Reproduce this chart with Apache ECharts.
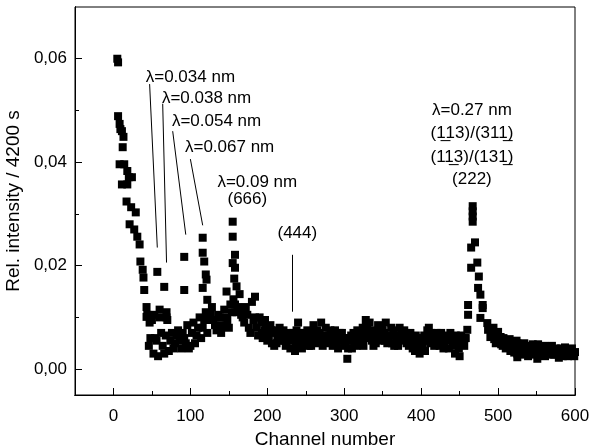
<!DOCTYPE html>
<html>
<head>
<meta charset="utf-8">
<script src="https://cdn.jsdelivr.net/npm/echarts@6/dist/echarts.min.js"></script>
<style>
  html, body { margin: 0; padding: 0; background: #fff; }
  #chart { width: 592px; height: 448px; }
</style>
</head>
<body>
<div id="chart"></div>
<script>
// tick values
const xMajorTicks = [0, 100, 200, 300, 400, 500, 600];
const xMinorTicks = [-50, 50, 150, 250, 350, 450, 550];
const yMajorTicks = [0, 0.02, 0.04, 0.06];
const yMinorTicks = [0.01, 0.03, 0.05];

// [channel, rel. intensity]
const directBeam = [
  [5, 0.0600], [6, 0.0593], [6, 0.0489], [8, 0.0474], [9, 0.0464], [11, 0.0460],
  [13, 0.0449], [12, 0.0429], [8, 0.0396], [14, 0.0396], [18, 0.0383], [20, 0.0371],
  [24, 0.0371], [11, 0.0357], [18, 0.0357], [17, 0.0324], [23, 0.0313], [29, 0.0303],
  [21, 0.0280], [27, 0.0270], [31, 0.0256], [34, 0.0241], [35, 0.0208], [38, 0.0192],
  [39, 0.0177], [40, 0.0153], [43, 0.0120], [43, 0.0101], [53, 0.0105], [69, 0.0110],
  [69, 0.0100], [47, 0.0090], [60, 0.0115]
];
const peak034 = [[57, 0.0188]];
const peak038 = [[66, 0.0159]];
const peak054 = [[92, 0.0217], [92, 0.0153]];
const peak067 = [
  [116, 0.0254], [116, 0.0225], [118, 0.0208], [120, 0.0183], [121, 0.0173],
  [116, 0.0157], [122, 0.0134]
];
const peak090 = [
  [155, 0.0285], [155, 0.0256], [158, 0.0221], [155, 0.0205], [158, 0.0196],
  [157, 0.0175], [160, 0.0160], [147, 0.0150], [184, 0.0140]
];
const backgroundA = [
  [44, 0.0105], [48, 0.0060], [52, 0.0030], [56, 0.0055], [60, 0.0100], [64, 0.0045],
  [68, 0.0065], [72, 0.0035], [76, 0.0070], [80, 0.0050], [84, 0.0075], [88, 0.0040],
  [92, 0.0060], [96, 0.0085], [100, 0.0045], [104, 0.0090], [108, 0.0065], [112, 0.0100],
  [116, 0.0080], [120, 0.0110], [124, 0.0095], [128, 0.0120], [132, 0.0085], [136, 0.0105],
  [140, 0.0070], [144, 0.0115], [148, 0.0095], [152, 0.0125], [156, 0.0135], [160, 0.0110],
  [164, 0.0145], [168, 0.0100], [172, 0.0120], [176, 0.0080], [180, 0.0130], [184, 0.0100],
  [188, 0.0065], [192, 0.0090], [196, 0.0075], [200, 0.0055], [204, 0.0085], [208, 0.0070],
  [212, 0.0050], [216, 0.0080], [220, 0.0060], [224, 0.0045], [228, 0.0070], [232, 0.0055],
  [236, 0.0035], [240, 0.0090], [244, 0.0060], [248, 0.0050], [252, 0.0075], [256, 0.0060],
  [260, 0.0085], [264, 0.0050], [268, 0.0070], [272, 0.0045], [276, 0.0080], [280, 0.0065],
  [284, 0.0055], [288, 0.0075], [292, 0.0040], [296, 0.0060], [300, 0.0050], [304, 0.0020],
  [308, 0.0055], [312, 0.0070], [316, 0.0045], [320, 0.0065], [324, 0.0080], [328, 0.0095],
  [332, 0.0070], [336, 0.0055], [340, 0.0075], [344, 0.0085], [348, 0.0060], [352, 0.0070],
  [356, 0.0050], [360, 0.0065], [364, 0.0075], [368, 0.0055], [372, 0.0080], [376, 0.0060],
  [380, 0.0070], [384, 0.0045], [388, 0.0060], [392, 0.0035], [396, 0.0055], [400, 0.0040],
  [404, 0.0065], [408, 0.0075], [412, 0.0050], [416, 0.0060], [420, 0.0070], [424, 0.0045],
  [428, 0.0055], [432, 0.0065], [436, 0.0040], [440, 0.0060], [444, 0.0030], [448, 0.0050],
  [452, 0.0065], [456, 0.0045]
];
const backgroundB = [
  [46, 0.0045], [50, 0.0095], [54, 0.0060], [58, 0.0025], [62, 0.0070], [66, 0.0030],
  [70, 0.0095], [74, 0.0055], [78, 0.0040], [82, 0.0065], [86, 0.0055], [90, 0.0070],
  [94, 0.0050], [98, 0.0040], [102, 0.0070], [106, 0.0050], [110, 0.0080], [114, 0.0060],
  [118, 0.0095], [122, 0.0070], [126, 0.0105], [130, 0.0095], [134, 0.0075], [138, 0.0100],
  [142, 0.0085], [146, 0.0100], [150, 0.0080], [154, 0.0110], [158, 0.0125], [162, 0.0120],
  [166, 0.0105], [170, 0.0090], [174, 0.0105], [178, 0.0070], [182, 0.0095], [186, 0.0080],
  [190, 0.0100], [194, 0.0060], [198, 0.0080], [202, 0.0065], [206, 0.0050], [210, 0.0075],
  [214, 0.0060], [218, 0.0070], [222, 0.0055], [226, 0.0065], [230, 0.0040], [234, 0.0060],
  [238, 0.0075], [242, 0.0050], [246, 0.0070], [250, 0.0060], [254, 0.0045], [258, 0.0065],
  [262, 0.0070], [266, 0.0060], [270, 0.0090], [274, 0.0060], [278, 0.0055], [282, 0.0075],
  [286, 0.0065], [290, 0.0050], [294, 0.0070], [298, 0.0055], [302, 0.0045], [306, 0.0060],
  [310, 0.0040], [314, 0.0060], [318, 0.0055], [322, 0.0070], [326, 0.0060], [330, 0.0080],
  [334, 0.0065], [338, 0.0045], [342, 0.0065], [346, 0.0055], [350, 0.0075], [354, 0.0090],
  [358, 0.0060], [362, 0.0050], [366, 0.0065], [370, 0.0045], [374, 0.0070], [378, 0.0075],
  [382, 0.0055], [386, 0.0070], [390, 0.0050], [394, 0.0060], [398, 0.0030], [402, 0.0050],
  [406, 0.0055], [410, 0.0080], [414, 0.0065], [418, 0.0055], [422, 0.0060], [426, 0.0070],
  [430, 0.0050], [434, 0.0060], [438, 0.0070], [442, 0.0050], [446, 0.0060], [450, 0.0025],
  [454, 0.0055], [458, 0.0060]
];
const backgroundC = [
  [193, 0.0070], [197, 0.0095], [201, 0.0060], [205, 0.0075], [209, 0.0045], [213, 0.0065],
  [217, 0.0055], [221, 0.0075], [225, 0.0050], [229, 0.0060], [233, 0.0070], [237, 0.0050],
  [241, 0.0065], [245, 0.0040], [249, 0.0070], [253, 0.0055], [257, 0.0045], [261, 0.0060],
  [265, 0.0075], [269, 0.0055], [273, 0.0065], [277, 0.0050], [281, 0.0060], [285, 0.0045],
  [289, 0.0065], [293, 0.0055], [297, 0.0070], [301, 0.0060], [305, 0.0040], [309, 0.0065],
  [313, 0.0050], [317, 0.0075], [321, 0.0055], [325, 0.0045], [329, 0.0065], [333, 0.0090],
  [337, 0.0060], [341, 0.0050], [345, 0.0070], [349, 0.0080], [353, 0.0055], [357, 0.0065],
  [361, 0.0080], [365, 0.0045], [369, 0.0060], [373, 0.0055], [377, 0.0065], [381, 0.0050],
  [385, 0.0065], [389, 0.0040], [393, 0.0065], [397, 0.0045], [401, 0.0060], [405, 0.0035],
  [409, 0.0055], [413, 0.0070], [417, 0.0045], [421, 0.0065], [425, 0.0055], [429, 0.0040],
  [433, 0.0055], [437, 0.0060], [441, 0.0045], [445, 0.0065], [449, 0.0040], [453, 0.0060]
];
const peak027 = [
  [467, 0.0315], [467, 0.0305], [467, 0.0295], [467, 0.0285], [470, 0.0245], [465, 0.0235],
  [473, 0.0206], [465, 0.0196], [475, 0.0179], [474, 0.0157], [477, 0.0144], [461, 0.0124],
  [461, 0.0105], [480, 0.0124], [480, 0.0118], [477, 0.0099], [486, 0.0089], [460, 0.0076],
  [487, 0.0076], [490, 0.0062], [457, 0.0060], [499, 0.0070], [503, 0.0062], [512, 0.0043],
  [525, 0.0050], [525, 0.0023]
];
const tailA = [
  [492, 0.0070], [495, 0.0058], [498, 0.0065], [501, 0.0055], [504, 0.0048], [507, 0.0060],
  [510, 0.0040], [513, 0.0052], [516, 0.0035], [519, 0.0045], [522, 0.0050], [525, 0.0030],
  [528, 0.0042], [531, 0.0038], [534, 0.0050], [537, 0.0032], [540, 0.0045], [543, 0.0028],
  [546, 0.0040], [549, 0.0035], [552, 0.0048], [555, 0.0030], [558, 0.0042], [561, 0.0025],
  [564, 0.0038], [567, 0.0032], [570, 0.0045], [573, 0.0028], [576, 0.0036], [579, 0.0022],
  [582, 0.0040], [585, 0.0030], [588, 0.0035], [591, 0.0025], [594, 0.0038], [597, 0.0030],
  [600, 0.0033]
];
const tailB = [
  [494, 0.0080], [497, 0.0050], [500, 0.0072], [503, 0.0062], [506, 0.0045], [509, 0.0055],
  [512, 0.0043], [515, 0.0058], [518, 0.0040], [521, 0.0032], [524, 0.0055], [527, 0.0040],
  [530, 0.0028], [533, 0.0045], [536, 0.0040], [539, 0.0025], [542, 0.0038], [545, 0.0048],
  [548, 0.0030], [551, 0.0020], [554, 0.0040], [557, 0.0035], [560, 0.0045], [563, 0.0030],
  [566, 0.0042], [569, 0.0028], [572, 0.0035], [575, 0.0040], [578, 0.0030], [581, 0.0035],
  [584, 0.0025], [587, 0.0042], [590, 0.0032], [593, 0.0028], [596, 0.0040], [599, 0.0025]
];

const allPoints = [].concat(directBeam, peak034, peak038, peak054, peak067, peak090,
  backgroundA, backgroundB, backgroundC, peak027, tailA, tailB);

const U = '\u0332';
const labelTexts = [
  ['λ=0.034 nm', 100, 0.0565],
  ['λ=0.038 nm', 121, 0.0524],
  ['λ=0.054 nm', 134, 0.0479],
  ['λ=0.067 nm', 151, 0.0429],
  ['λ=0.09 nm', 187, 0.0362],
  ['(666)', 174, 0.0329],
  ['(444)', 239, 0.0262],
  ['λ=0.27 nm', 466, 0.0500],
  ['(1' + U + '13)/(311' + U + ')', 466, 0.0455],
  ['(11' + U + '3)/(131' + U + ')', 466, 0.0410],
  ['(222)', 466, 0.0367]
];
const pointerLines = [
  [[47, 0.0551], [57, 0.0235]],
  [[64, 0.0513], [69, 0.0206]],
  [[77, 0.0460], [94, 0.0260]],
  [[100, 0.0406], [116, 0.0278]],
  [[233, 0.0221], [233, 0.0111]]
];

const FONT = 'Liberation Sans, Arial, sans-serif';
const chart = echarts.init(document.getElementById('chart'));

const yFmt = v => v.toFixed(2).replace('.', ',');
const line = { show: true, onZero: false, lineStyle: { color: '#000', width: 1 } };
const gridBox = { left: 75, right: 17, top: 7, bottom: 53, containLabel: false, outerBoundsMode: 'none' };

// one grid for the data, two overlaid grids that only carry the tick marks
function tickX(gridIndex, vals, len) {
  return {
    type: 'value', gridIndex, min: -50, max: 600, position: 'bottom',
    axisLine: line,
    axisTick: { show: true, inside: true, length: len, customValues: vals, lineStyle: { color: '#000', width: 1 } },
    axisLabel: { show: false }, splitLine: { show: false }
  };
}
function tickY(gridIndex, vals, len) {
  return {
    type: 'value', gridIndex, min: -0.005, max: 0.07, position: 'left',
    axisLine: line,
    axisTick: { show: true, inside: true, length: len, customValues: vals, lineStyle: { color: '#000', width: 1 } },
    axisLabel: { show: false }, splitLine: { show: false }
  };
}

chart.setOption({
  animation: false,
  grid: [
    Object.assign({ show: true, borderColor: '#000', borderWidth: 1 }, gridBox),
    Object.assign({}, gridBox),
    Object.assign({}, gridBox)
  ],
  xAxis: [{
    type: 'value', gridIndex: 0, min: -50, max: 600, position: 'bottom',
    name: 'Channel number', nameLocation: 'middle', nameGap: 32,
    nameTextStyle: { fontFamily: FONT, fontSize: 19, color: '#000' },
    axisLine: line,
    axisTick: { show: false },
    axisLabel: { show: true, margin: 13, customValues: xMajorTicks, fontFamily: FONT, fontSize: 17, color: '#000' },
    splitLine: { show: false }
  }, tickX(1, xMajorTicks, 7), tickX(2, xMinorTicks, 4)],
  yAxis: [{
    type: 'value', gridIndex: 0, min: -0.005, max: 0.07, position: 'left',
    name: 'Rel. intensity / 4200 s', nameLocation: 'middle', nameGap: 42,
    nameTextStyle: { fontFamily: FONT, fontSize: 19, color: '#000' },
    axisLine: line,
    axisTick: { show: false },
    axisLabel: { show: true, margin: 8, customValues: yMajorTicks, formatter: yFmt, fontFamily: FONT, fontSize: 17, color: '#000' },
    splitLine: { show: false }
  }, tickY(1, yMajorTicks, 7), tickY(2, yMinorTicks, 4)],
  series: [{
    type: 'scatter',
    xAxisIndex: 0, yAxisIndex: 0,
    symbol: 'rect',
    symbolSize: 8,
    itemStyle: { color: '#000', opacity: 1 },
    data: allPoints,
    markPoint: {
      symbol: 'rect', symbolSize: 0, silent: true,
      label: { show: true, position: 'inside', color: '#000', fontFamily: FONT, fontSize: 17 },
      data: labelTexts.map(t => ({ coord: [t[1], t[2]], value: t[0], label: { formatter: t[0] } }))
    },
    markLine: {
      symbol: 'none', silent: true,
      label: { show: false },
      lineStyle: { color: '#000', width: 1, type: 'solid' },
      data: pointerLines.map(l => [{ coord: l[0] }, { coord: l[1] }])
    }
  }]
});
</script>
</body>
</html>
